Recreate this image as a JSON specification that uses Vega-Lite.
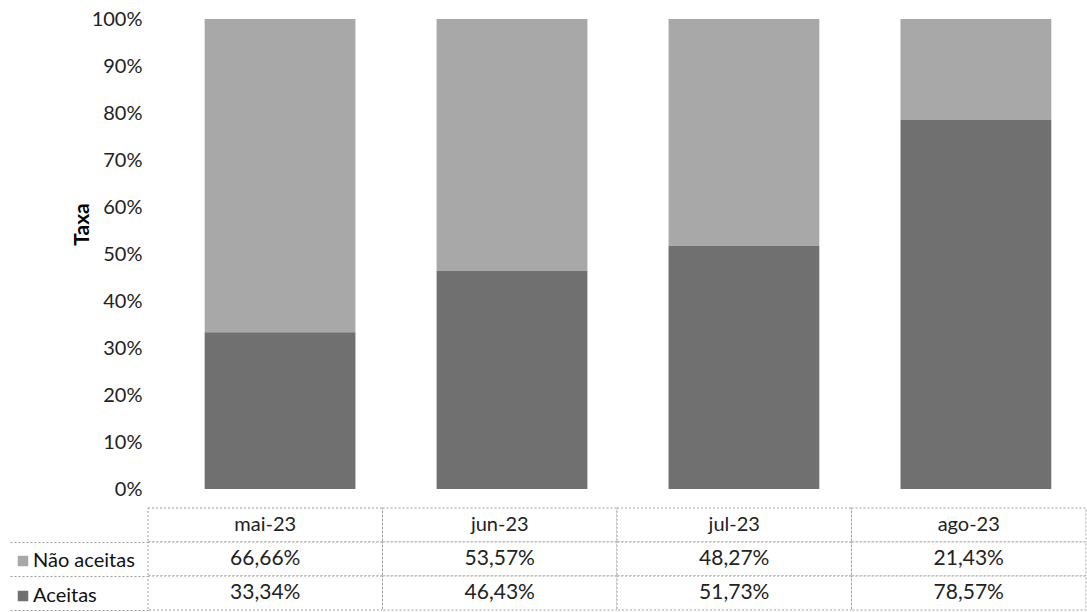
{
  "$schema": "https://vega.github.io/schema/vega-lite/v6.json",
  "padding": {"left": 7, "top": 9, "right": 0, "bottom": 0},
  "config": {
    "view": {"stroke": null},
    "font": "Lato",
    "locale": {"number": {"decimal": ",", "thousands": ".", "grouping": [3], "currency": ["R$", ""]}}
  },
  "datasets": {
    "dados": [
      {"mes": "mai-23", "serie": "Não aceitas", "valor": 0.6666},
      {"mes": "mai-23", "serie": "Aceitas", "valor": 0.3334},
      {"mes": "jun-23", "serie": "Não aceitas", "valor": 0.5357},
      {"mes": "jun-23", "serie": "Aceitas", "valor": 0.4643},
      {"mes": "jul-23", "serie": "Não aceitas", "valor": 0.4827},
      {"mes": "jul-23", "serie": "Aceitas", "valor": 0.5173},
      {"mes": "ago-23", "serie": "Não aceitas", "valor": 0.2143},
      {"mes": "ago-23", "serie": "Aceitas", "valor": 0.7857}
    ]
  },
  "bounds": "flush",
  "spacing": 19,
  "resolve": {"scale": {"color": "independent", "x": "independent", "y": "independent"}},
  "vconcat": [
    {
      "width": 938,
      "height": 470,
      "data": {"name": "dados"},
      "mark": {"type": "bar"},
      "encoding": {
        "x": {
          "field": "mes", "type": "nominal",
          "sort": ["mai-23", "jun-23", "jul-23", "ago-23"],
          "scale": {"paddingInner": 0.35, "paddingOuter": 0.197, "align": 0.62},
          "axis": null
        },
        "y": {
          "field": "valor", "type": "quantitative", "stack": "zero",
          "scale": {"domain": [0, 1]},
          "axis": {
            "values": [0, 0.1, 0.2, 0.3, 0.4, 0.5, 0.6, 0.7, 0.8, 0.9, 1],
            "format": ".0%",
            "ticks": false, "domain": false, "grid": false,
            "labelPadding": 6, "labelFontSize": 20, "labelColor": "#222",
            "title": "Taxa", "titleFontSize": 21, "titleFontWeight": "bold",
            "titleColor": "#000", "titleX": -56, "titleY": 205
          }
        },
        "color": {
          "field": "serie", "type": "nominal",
          "scale": {"domain": ["Não aceitas", "Aceitas"], "range": ["#a8a8a8", "#707070"]},
          "legend": null
        },
        "order": {"field": "serie", "sort": "ascending"}
      }
    },
    {
      "width": 938,
      "height": 102,
      "data": {"name": "dados"},
      "encoding": {
        "x": {
          "field": "mes", "type": "nominal",
          "sort": ["mai-23", "jun-23", "jul-23", "ago-23"],
          "scale": {"paddingInner": 0, "paddingOuter": 0},
          "axis": null
        }
      },
      "layer": [
        {
          "transform": [{"filter": "datum.serie === 'Aceitas'"}],
          "mark": {"type": "rect", "fill": "white", "stroke": "#a0a0a0", "strokeDash": [2, 2], "strokeWidth": 1},
          "encoding": {
            "y": {
              "datum": "mês", "type": "nominal",
              "scale": {"domain": ["mês", "Não aceitas", "Aceitas"], "paddingInner": 0, "paddingOuter": 0},
              "axis": {
                "title": null, "labels": false, "domain": false,
                "bandPosition": 1, "tickSize": 140, "tickColor": "#a0a0a0",
                "tickDash": [2, 2], "tickWidth": 1
              }
            }
          }
        },
        {
          "mark": {"type": "rect", "fill": "white", "stroke": "#a0a0a0", "strokeDash": [2, 2], "strokeWidth": 1},
          "encoding": {"y": {"field": "serie", "type": "nominal"}}
        },
        {
          "transform": [{"filter": "datum.serie === 'Aceitas'"}],
          "mark": {"type": "text", "fontSize": 20, "color": "#222"},
          "encoding": {
            "y": {"datum": "mês", "type": "nominal"},
            "text": {"field": "mes"}
          }
        },
        {
          "mark": {"type": "text", "fontSize": 21, "color": "#222"},
          "encoding": {
            "y": {"field": "serie", "type": "nominal"},
            "text": {"field": "valor", "type": "quantitative", "format": ".2%"}
          }
        },
        {
          "mark": {"type": "square", "opacity": 0},
          "encoding": {
            "y": {"field": "serie", "type": "nominal"},
            "color": {
              "field": "serie", "type": "nominal",
              "scale": {"domain": ["Não aceitas", "Aceitas"], "range": ["#a8a8a8", "#707070"]},
              "legend": {
                "orient": "none", "legendX": -135, "legendY": 43,
                "title": null, "symbolType": "square", "symbolSize": 110,
                "symbolStrokeWidth": 0, "symbolOpacity": 1,
                "labelFontSize": 20, "labelColor": "#111", "labelOffset": 0,
                "rowPadding": 15, "labelFont": "Lato"
              }
            }
          }
        }
      ]
    }
  ]
}
